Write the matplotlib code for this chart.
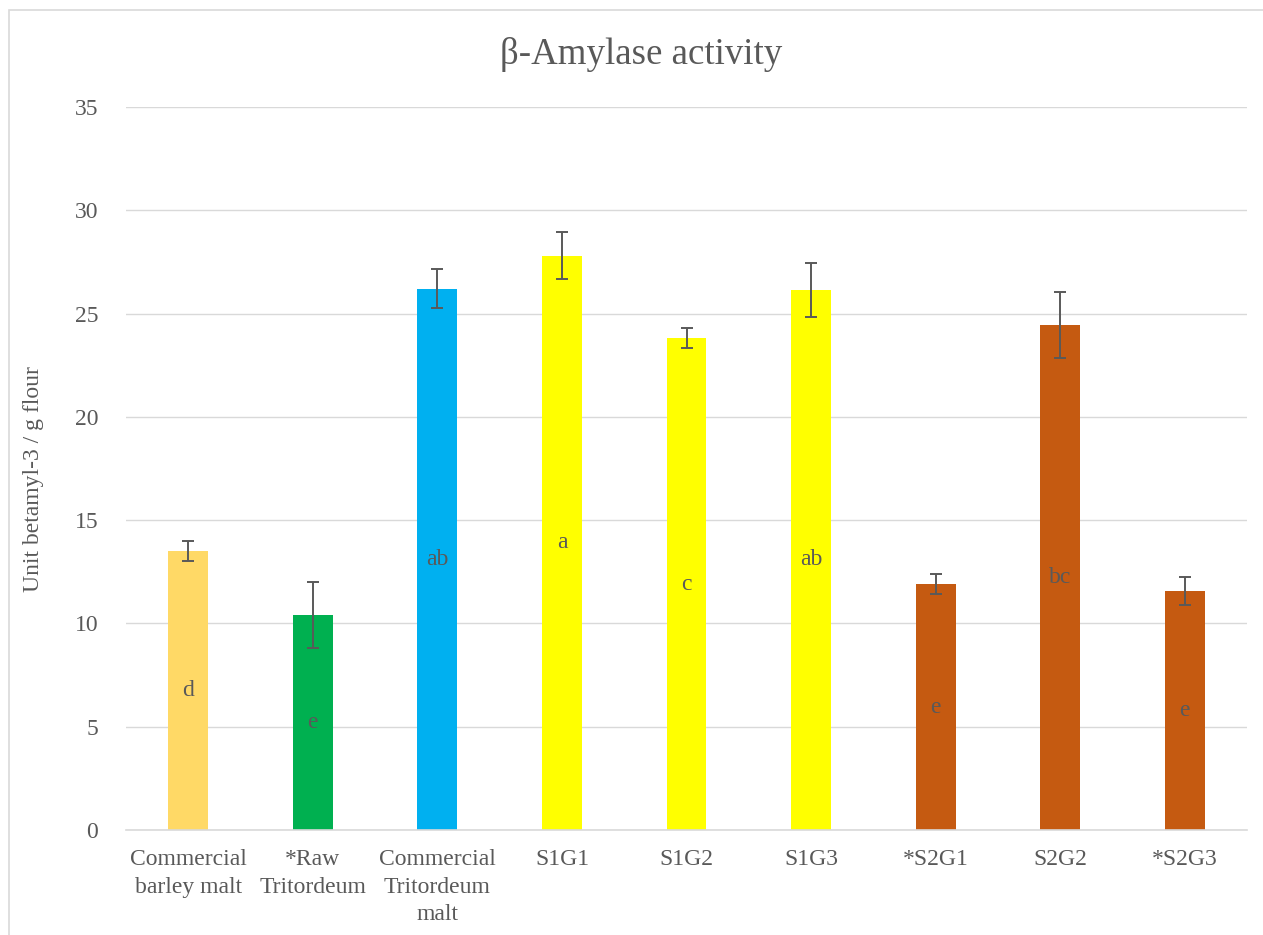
import matplotlib
matplotlib.use("Agg")
import matplotlib.pyplot as plt
from matplotlib.patches import Rectangle

# data
categories = ["Commercial\nbarley malt", "*Raw\nTritordeum", "Commercial\nTritordeum\nmalt",
              "S1G1", "S1G2", "S1G3", "*S2G1", "S2G2", "*S2G3"]
values = [13.5, 10.4, 26.2, 27.8, 23.8, 26.15, 11.9, 24.45, 11.57]
errors = [0.5, 1.6, 0.95, 1.15, 0.48, 1.3, 0.48, 1.6, 0.68]
letters = ["d", "e", "ab", "a", "c", "ab", "e", "bc", "e"]
colors = ["#FFD966", "#00B050", "#00B0F0", "#FFFF00", "#FFFF00", "#FFFF00",
          "#C55A11", "#C55A11", "#C55A11"]

txt = "#595959"
plt.rcParams['font.family'] = ['Liberation Serif', 'DejaVu Serif']

fig = plt.figure(figsize=(12.63, 9.35), dpi=100)
ax = fig.add_axes([126/1263, 1 - 830/935, (1247-126)/1263, (830-107)/935])

x = list(range(len(categories)))
ax.bar(x, values, width=0.32, color=colors, zorder=2)
ax.errorbar(x, values, yerr=errors, fmt="none", ecolor=txt, elinewidth=1.4,
            capsize=4.5, capthick=1.4, zorder=3)

for xi, v, lab in zip(x, values, letters):
    ax.text(xi, v / 2, lab, ha="center", va="center", fontsize=17, color=txt, zorder=4)

ax.set_xlim(-0.5, len(categories) - 0.5)
ax.set_ylim(0, 35)
ax.set_yticks(range(0, 36, 5))
ax.yaxis.grid(True, color="#D9D9D9", linewidth=1.0, zorder=0)
ax.set_axisbelow(True)
for s in ["top", "right", "left"]:
    ax.spines[s].set_visible(False)
ax.spines["bottom"].set_color("#D9D9D9")
ax.spines["bottom"].set_linewidth(1.2)

ax.set_xticks(x)
ax.set_xticklabels(categories, fontsize=17, color=txt, linespacing=1.4)
ax.tick_params(axis="both", length=0, labelsize=17, labelcolor=txt)
ax.tick_params(axis="y", pad=20)
ax.tick_params(axis="x", pad=14)

fig.text(34/1263, 1 - 479/935, "Unit betamyl-3 / g flour", rotation=90,
         ha="center", va="center", fontsize=17, color=txt)
fig.text(641/1263, 1 - 55/935, "\u03b2-Amylase activity", ha="center", va="center",
         fontsize=26.6, color=txt)

# chart border
fig.patches.append(Rectangle((9/1263, -0.01), 1.02, 1 - 10/935 + 0.01,
                             transform=fig.transFigure, fill=False,
                             edgecolor="#D9D9D9", linewidth=1.2))

fig.savefig("out.png", dpi=100)
